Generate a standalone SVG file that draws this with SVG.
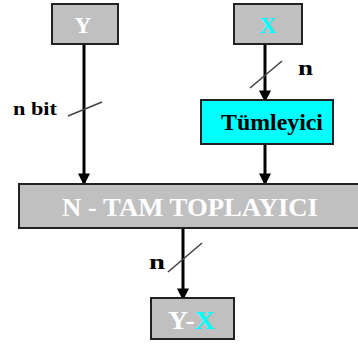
<svg xmlns="http://www.w3.org/2000/svg" width="358" height="344" viewBox="0 0 358 344">
<defs>
<marker id="ah" markerWidth="4" markerHeight="4" refX="3.2" refY="2" orient="auto" markerUnits="strokeWidth">
<path d="M0,0 L4,2 L0,4 Z" fill="#000"/>
</marker>
<style>
.box{fill:#C0C0C0;stroke:#222;stroke-width:2}
.cy{fill:#00FFFF;stroke:#222;stroke-width:2}
.w{fill:#FFFFFF}
.c{fill:#00FFFF}
.k{fill:#000}
.ln{stroke:#000;stroke-width:3;fill:none}
.sl{stroke:#444;stroke-width:1.6;fill:none}
.f{font-family:'Liberation Serif','DejaVu Serif',serif;font-weight:bold}
</style>
</defs>
<g class="f">
<g id="connectors">
<line class="ln" x1="84" y1="44" x2="84" y2="183" marker-end="url(#ah)"/>
<line class="ln" x1="265" y1="44" x2="265" y2="100" marker-end="url(#ah)"/>
<line class="ln" x1="265" y1="144" x2="265" y2="183" marker-end="url(#ah)"/>
<line class="ln" x1="183" y1="228" x2="183" y2="298" marker-end="url(#ah)"/>
<line class="sl" x1="68" y1="116" x2="102" y2="102"/>
<line class="sl" x1="250" y1="88" x2="282" y2="61"/>
<line class="sl" x1="168" y1="272" x2="202" y2="243"/>
<text class="k" x="13" y="115" font-size="19" textLength="44" lengthAdjust="spacingAndGlyphs">n bit</text>
<text class="k" x="298" y="75" font-size="21" textLength="15" lengthAdjust="spacingAndGlyphs">n</text>
<text class="k" x="149" y="269" font-size="21" textLength="16" lengthAdjust="spacingAndGlyphs">n</text>
</g>
<g id="Y">
<rect class="box" x="52" y="4" width="66" height="40"/>
<text class="w" x="83" y="33" font-size="24" text-anchor="middle">Y</text>
</g>
<g id="X">
<rect class="box" x="234" y="4" width="68" height="40"/>
<text class="c" x="268" y="33" font-size="24" text-anchor="middle">X</text>
</g>
<g id="Tumleyici">
<rect class="cy" x="201" y="100" width="132" height="44"/>
<text class="k" x="221" y="130" font-size="23" textLength="102" lengthAdjust="spacingAndGlyphs">Tümleyici</text>
</g>
<g id="adder">
<rect class="box" x="19" y="184" width="345" height="44"/>
<text class="w" x="62" y="216" font-size="25" textLength="256" lengthAdjust="spacingAndGlyphs">N - TAM TOPLAYICI</text>
</g>
<g id="YX">
<rect class="box" x="151" y="298" width="83" height="41"/>
<text x="168" y="329" font-size="25" textLength="47" lengthAdjust="spacingAndGlyphs"><tspan class="w">Y-</tspan><tspan class="c">X</tspan></text>
</g>
</g>
</svg>
